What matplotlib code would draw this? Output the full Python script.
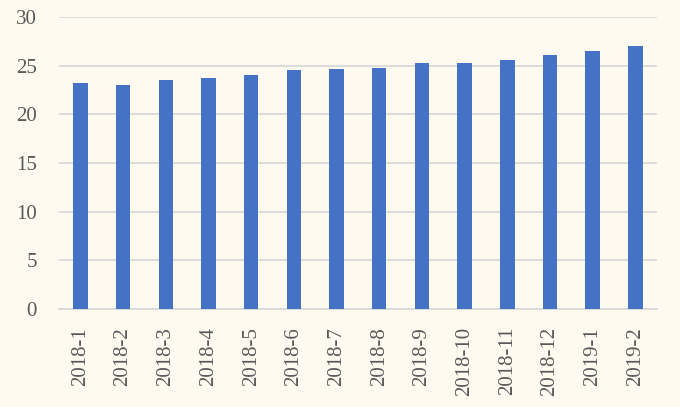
import matplotlib.pyplot as plt
import numpy as np

# month labels and values
months = ['2018-1', '2018-2', '2018-3', '2018-4', '2018-5', '2018-6', '2018-7',
          '2018-8', '2018-9', '2018-10', '2018-11', '2018-12', '2019-1', '2019-2']
values = [23.25, 23.0, 23.5, 23.75, 24.05, 24.55, 24.65,
          24.8, 25.3, 25.3, 25.6, 26.1, 26.5, 27.05]

BG = '#FEFAF0'
BAR_COLOR = '#4472C4'
GRID_COLOR = '#D9D9D9'
TEXT_COLOR = '#595959'

plt.rcParams['font.family'] = ['Liberation Serif', 'DejaVu Serif']

fig = plt.figure(figsize=(6.8, 4.07), dpi=100, facecolor=BG)
ax = fig.add_axes([0.0868, 0.2408, 0.879, 0.7172])
ax.set_facecolor(BG)

x = np.arange(len(months))
ax.bar(x, values, width=0.34, color=BAR_COLOR, zorder=3)

ax.set_xlim(-0.5, len(months) - 0.5)
ax.set_ylim(0, 30)
ax.set_yticks(range(0, 31, 5))
ax.yaxis.grid(True, color=GRID_COLOR, linewidth=1.3, zorder=0)
ax.set_axisbelow(True)

ax.set_xticks(x)
ax.set_xticklabels(months, rotation=90)
ax.tick_params(axis='both', length=0, labelsize=15, labelcolor=TEXT_COLOR)
ax.tick_params(axis='y', pad=16)
ax.tick_params(axis='x', pad=13)

for side in ['top', 'right', 'left']:
    ax.spines[side].set_visible(False)
ax.spines['bottom'].set_color(GRID_COLOR)
ax.spines['bottom'].set_linewidth(1.3)

fig.savefig('out.png', dpi=100, facecolor=BG)
